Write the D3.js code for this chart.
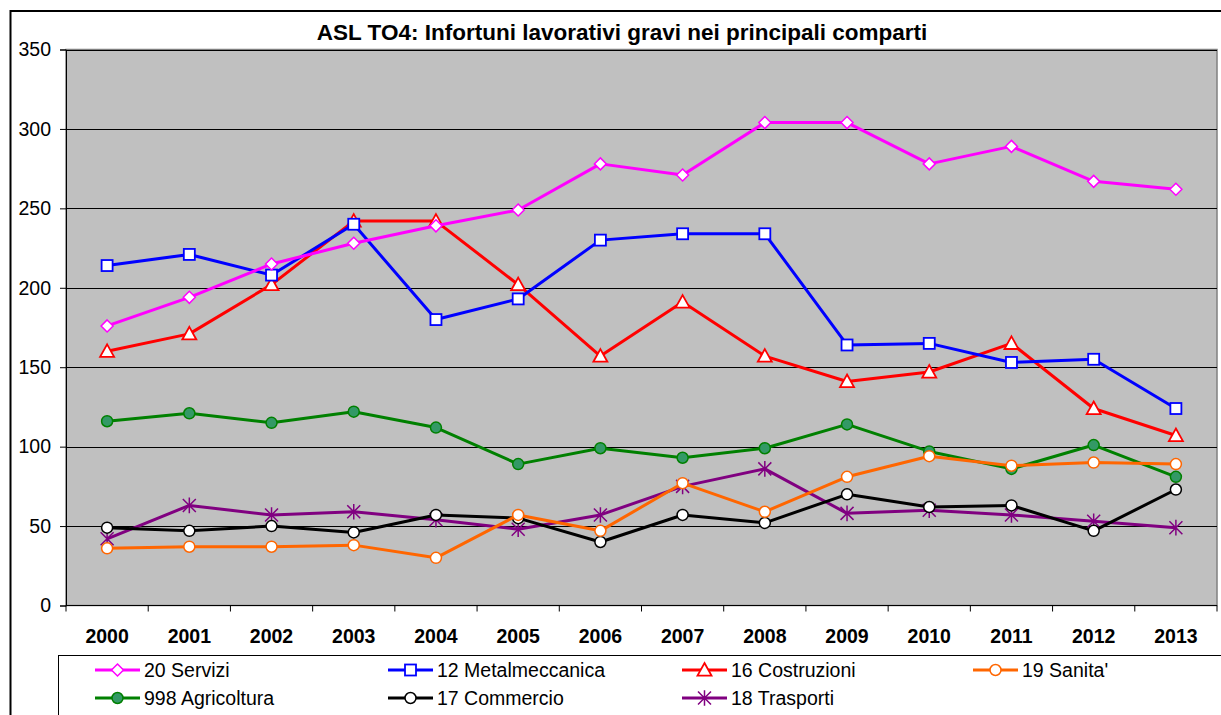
<!DOCTYPE html>
<html>
<head>
<meta charset="utf-8">
<script src="https://cdn.jsdelivr.net/npm/d3@7"></script>
<style>
  body { margin: 0; background: #fff; }
  svg { display: block; font-family: Arial, "Liberation Sans", sans-serif; }
</style>
</head>
<body>
<svg width="1221" height="715"></svg>
<script>
// data
var years = ["2000","2001","2002","2003","2004","2005","2006","2007","2008","2009","2010","2011","2012","2013"];
var servizi        = [176, 194, 215, 228, 239, 249, 278, 271, 304, 304, 278, 289, 267, 262];
var metalmeccanica = [214, 221, 208, 240, 180, 193, 230, 234, 234, 164, 165, 153, 155, 124];
var costruzioni    = [160, 171, 202, 242, 242, 202, 157, 191, 157, 141, 147, 165, 124, 107];
var sanita         = [36, 37, 37, 38, 30, 57, 47, 77, 59, 81, 94, 88, 90, 89];
var agricoltura    = [116, 121, 115, 122, 112, 89, 99, 93, 99, 114, 97, 86, 101, 81];
var commercio      = [49, 47, 50, 46, 57, 55, 40, 57, 52, 70, 62, 63, 47, 73];
var trasporti      = [42, 63, 57, 59, 54, 48, 57, 75, 86, 58, 60, 57, 53, 49];
var yTicks = [0, 50, 100, 150, 200, 250, 300, 350];

var series = [
  {name: "20 Servizi",         values: servizi,        color: "#ff00ff", mark: "diamond",  fill: "#fff"},
  {name: "12 Metalmeccanica",  values: metalmeccanica, color: "#0000ff", mark: "square",   fill: "#fff"},
  {name: "16 Costruzioni",     values: costruzioni,    color: "#ff0000", mark: "triangle", fill: "#fff"},
  {name: "19 Sanita'",         values: sanita,         color: "#ff6600", mark: "circle",   fill: "#fff"},
  {name: "998 Agricoltura",    values: agricoltura,    color: "#008000", mark: "circle",   fill: "#339966"},
  {name: "17 Commercio",       values: commercio,      color: "#000000", mark: "circle",   fill: "#fff"},
  {name: "18 Trasporti",       values: trasporti,      color: "#800080", mark: "star",     fill: "none"}
];

var svg = d3.select("svg");
var pLeft = 66, pRight = 1217, pTop = 49.5, pBottom = 605.5;

var x = d3.scaleBand().domain(years).range([pLeft, pRight]);
var y = d3.scaleLinear().domain([0, 350]).range([pBottom, pTop]);

// outer frame
svg.append("rect").attr("x", 10.5).attr("y", 11).attr("width", 1240).attr("height", 720)
  .attr("fill", "none").attr("stroke", "#000").attr("stroke-width", 2);

svg.append("text").attr("x", 622).attr("y", 40).attr("text-anchor", "middle")
  .attr("font-size", 22.5).attr("font-weight", "bold")
  .text("ASL TO4: Infortuni lavorativi gravi nei principali comparti");

// plot area
svg.append("rect").attr("x", pLeft).attr("y", pTop).attr("width", pRight - pLeft).attr("height", pBottom - pTop)
  .attr("fill", "#c0c0c0").attr("stroke", "#808080").attr("stroke-width", 1.5);

svg.append("g").selectAll("line").data(yTicks.slice(1)).enter().append("line")
  .attr("x1", pLeft).attr("x2", pRight)
  .attr("y1", function(d) { return Math.round(y(d)) + 0.5; })
  .attr("y2", function(d) { return Math.round(y(d)) + 0.5; })
  .attr("stroke", "#000").attr("stroke-width", 1);

var yAxis = svg.append("g").attr("transform", "translate(" + pLeft + ",0)")
  .call(d3.axisLeft(y).tickValues(yTicks).tickSize(6).tickPadding(9));
yAxis.selectAll("text").attr("font-size", 19.5).attr("fill", "#000").style("font-family", "Arial, 'Liberation Sans', sans-serif");
yAxis.selectAll("line, path").attr("stroke", "#000");

var xAxis = svg.append("g").attr("transform", "translate(0," + pBottom + ")");
xAxis.append("line").attr("x1", pLeft).attr("x2", pRight).attr("stroke", "#000");
xAxis.selectAll("line.tk").data(d3.range(years.length + 1)).enter().append("line")
  .attr("class", "tk")
  .attr("x1", function(i) { return pLeft + i * x.bandwidth(); })
  .attr("x2", function(i) { return pLeft + i * x.bandwidth(); })
  .attr("y1", 0).attr("y2", 6).attr("stroke", "#000");
xAxis.selectAll("text").data(years).enter().append("text")
  .attr("x", function(d) { return x(d) + x.bandwidth() / 2; })
  .attr("y", 37).attr("text-anchor", "middle")
  .attr("font-size", 19.5).attr("font-weight", "bold")
  .text(function(d) { return d; });

function drawMark(g, s, cx, cy) {
  if (s.mark == "diamond") {
    var r = 6;
    g.append("path").attr("d", "M" + cx + "," + (cy - r) + "L" + (cx + r) + "," + cy + "L" + cx + "," + (cy + r) + "L" + (cx - r) + "," + cy + "Z")
      .attr("fill", s.fill).attr("stroke", s.color).attr("stroke-width", 1.5);
  } else if (s.mark == "square") {
    var h = 5.5;
    g.append("rect").attr("x", cx - h).attr("y", cy - h).attr("width", 2 * h).attr("height", 2 * h)
      .attr("fill", s.fill).attr("stroke", s.color).attr("stroke-width", 1.8);
  } else if (s.mark == "triangle") {
    var t = 7;
    g.append("path").attr("d", "M" + cx + "," + (cy - t) + "L" + (cx + t) + "," + (cy + t * 0.8) + "L" + (cx - t) + "," + (cy + t * 0.8) + "Z")
      .attr("fill", s.fill).attr("stroke", s.color).attr("stroke-width", 1.8);
  } else if (s.mark == "circle") {
    g.append("circle").attr("cx", cx).attr("cy", cy).attr("r", 5.5)
      .attr("fill", s.fill).attr("stroke", s.color).attr("stroke-width", 1.5);
  } else {
    var a = 6.5;
    var p = "M" + (cx - a) + "," + (cy - a) + "L" + (cx + a) + "," + (cy + a) +
            "M" + (cx - a) + "," + (cy + a) + "L" + (cx + a) + "," + (cy - a) +
            "M" + cx + "," + (cy - a * 1.2) + "L" + cx + "," + (cy + a * 1.2);
    g.append("path").attr("d", p).attr("stroke", s.color).attr("stroke-width", 1.5).attr("fill", "none");
  }
}

var line = d3.line()
  .x(function(d, i) { return x(years[i]) + x.bandwidth() / 2; })
  .y(function(d) { return y(d); });

// draw later series under earlier ones, like the original
var gLines = svg.append("g");
series.slice().reverse().forEach(function(s) {
  var g = gLines.append("g");
  g.append("path").attr("d", line(s.values)).attr("fill", "none")
    .attr("stroke", s.color).attr("stroke-width", 3).attr("stroke-linejoin", "round");
  s.values.forEach(function(v, i) {
    drawMark(g, s, x(years[i]) + x.bandwidth() / 2, y(v));
  });
});

// legend
svg.append("rect").attr("x", 58.5).attr("y", 655.5).attr("width", 1200).attr("height", 80)
  .attr("fill", "#fff").attr("stroke", "#000").attr("stroke-width", 1);

var legendCols = [95, 388, 682, 973];
series.forEach(function(s, i) {
  var lx = legendCols[i % 4], ly = i < 4 ? 670 : 698;
  var g = svg.append("g");
  g.append("line").attr("x1", lx).attr("x2", lx + 45).attr("y1", ly).attr("y2", ly)
    .attr("stroke", s.color).attr("stroke-width", 3);
  drawMark(g, s, lx + 22.5, ly);
  g.append("text").attr("x", lx + 49).attr("y", ly + 7).attr("font-size", 19.5).text(s.name);
});
</script>
</body>
</html>
